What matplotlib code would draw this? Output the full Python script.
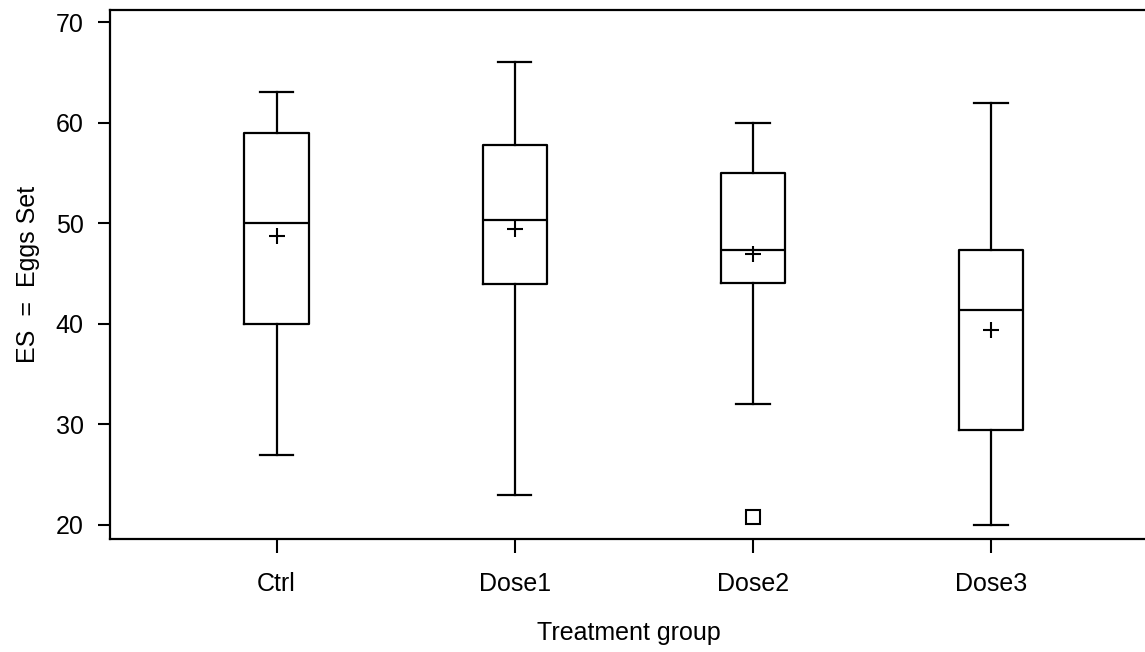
import matplotlib
matplotlib.use("Agg")
import matplotlib.pyplot as plt

# values
groups = ["Ctrl", "Dose1", "Dose2", "Dose3"]
whislo = [27, 23, 32, 20]
q1 = [40, 44, 44.1, 29.4]
med = [50, 50.3, 47.3, 41.4]
q3 = [59, 57.8, 55, 47.3]
whishi = [63, 66, 60, 62]
means = [48.7, 49.4, 46.9, 39.4]
outliers = [[], [], [20.8], []]

plt.rcParams['font.family'] = ['Liberation Sans', 'DejaVu Sans']

stats = []
for i in range(len(groups)):
    stats.append({"label": groups[i], "whislo": whislo[i], "q1": q1[i], "med": med[i],
                  "q3": q3[i], "whishi": whishi[i], "mean": means[i], "fliers": outliers[i]})

fig = plt.figure(figsize=(11.45, 6.52), dpi=100)
ax = fig.add_axes([0.096, 0.1733, 0.906, 0.8114])

lw = 1.6
ax.bxp(stats, positions=[1, 2, 3, 4], widths=0.27, capwidths=0.14,
       showmeans=True, showfliers=True,
       boxprops=dict(color='black', linewidth=lw),
       medianprops=dict(color='black', linewidth=lw),
       whiskerprops=dict(color='black', linewidth=lw),
       capprops=dict(color='black', linewidth=lw),
       meanprops=dict(marker='+', markeredgecolor='black', markersize=12, markeredgewidth=1.5),
       flierprops=dict(marker='s', markerfacecolor='white', markeredgecolor='black',
                       markersize=10, markeredgewidth=1.5))

ax.set_xlim(0.30, 4.656)
ax.set_ylim(18.6, 71.2)
ax.set_yticks([20, 30, 40, 50, 60, 70])
ax.set_xticks([1, 2, 3, 4])
ax.set_xticklabels(groups)

for s in ax.spines.values():
    s.set_linewidth(1.6)
ax.spines['right'].set_visible(False)

ax.tick_params(axis='y', direction='out', length=9, width=1.5, labelsize=18, pad=10)
ax.tick_params(axis='x', direction='out', length=10, width=1.5, labelsize=18, pad=14)

ax.set_xlabel("Treatment group", fontsize=18, labelpad=18)
ax.set_ylabel("ES  =  Eggs Set", fontsize=18, labelpad=11)

fig.savefig("out.png", dpi=100)
